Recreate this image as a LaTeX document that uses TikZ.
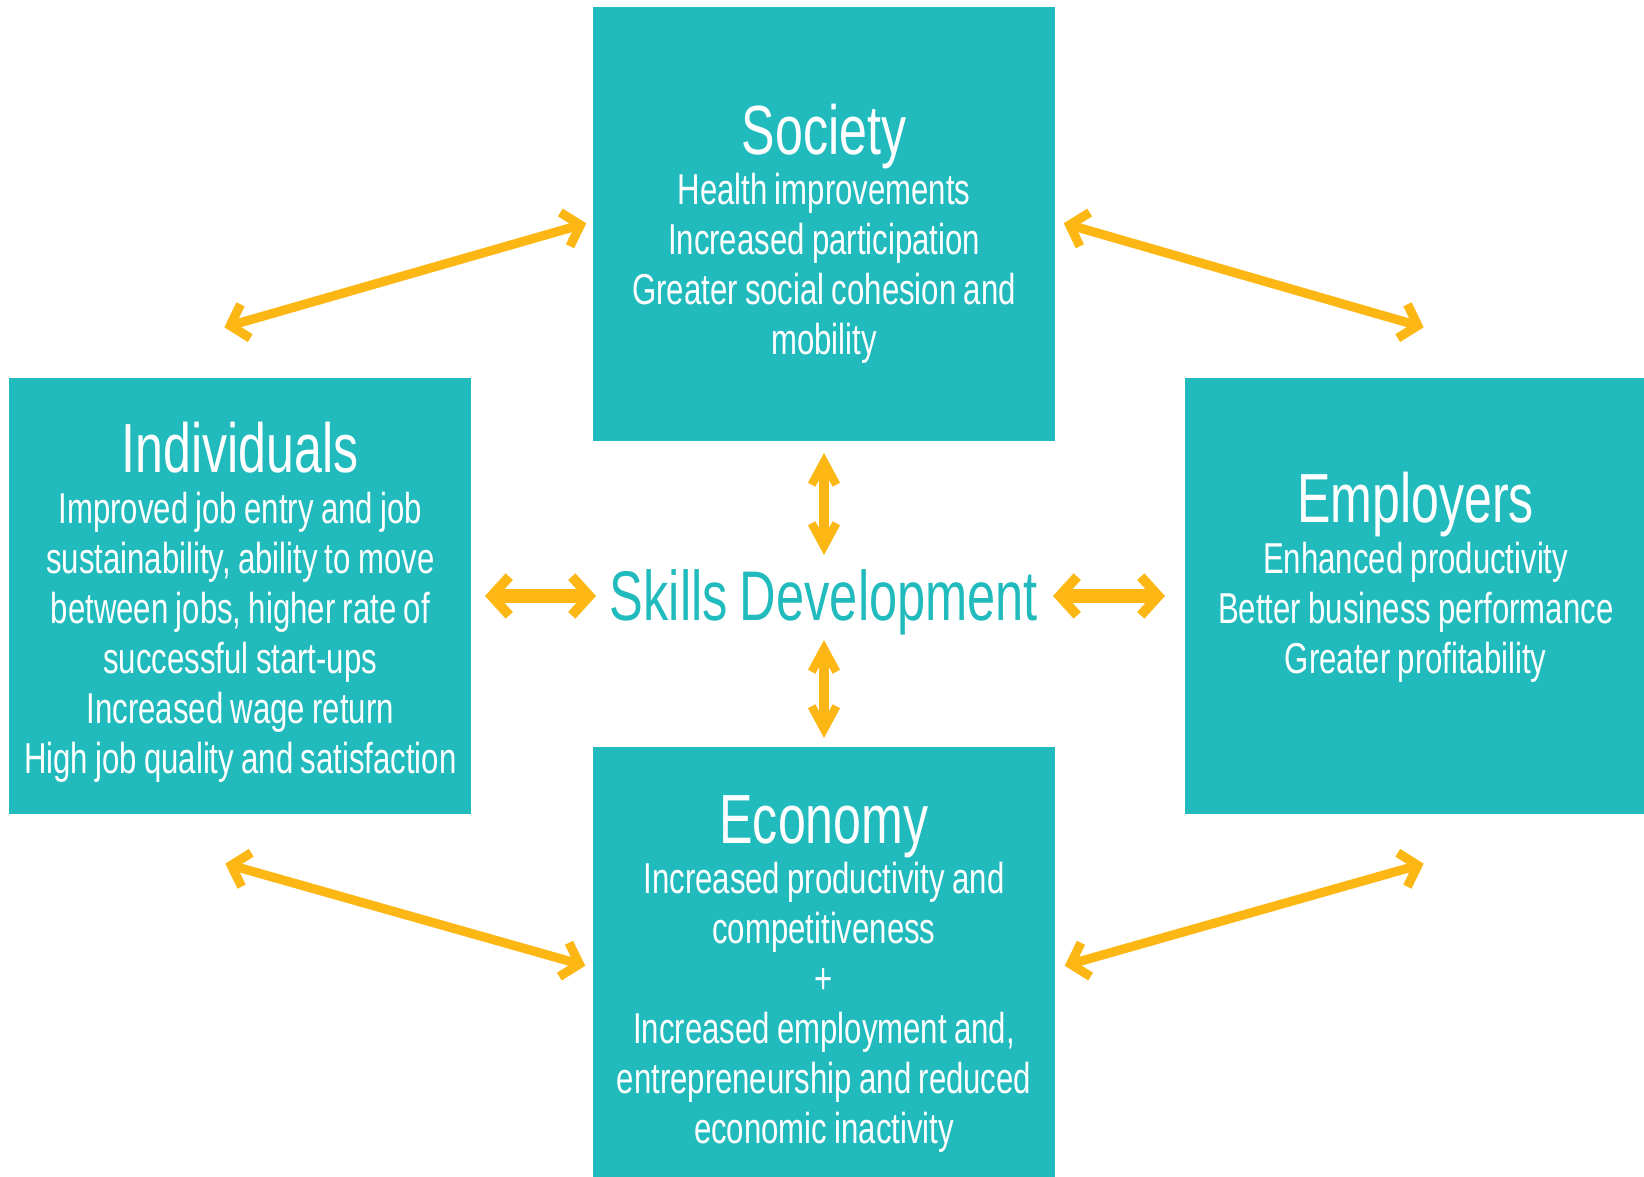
\documentclass[tikz,border=0pt]{standalone}
\usepackage{fontspec}
\setmainfont{Liberation Sans}[FakeStretch=0.72, WordSpace=0.85]
\usepackage{tikz}
\usetikzlibrary{positioning,arrows.meta}

\definecolor{skteal}{RGB}{34,187,189}
\definecolor{skorange}{RGB}{253,183,21}
\newcommand{\boxtitle}[1]{{\fontsize{19.8pt}{14.23pt}\selectfont #1}}

\tikzset{
  area/.style={fill=skteal, minimum width=4.62cm, minimum height=4.36cm, inner sep=0pt},
  areatext/.style={text=white, text width=4.6cm, align=flush center, inner sep=0pt, anchor=base,
    font=\fontsize{12.3pt}{14.23pt}\selectfont},
  hubtext/.style={text=skteal, inner sep=0pt, anchor=base, font=\fontsize{20pt}{24pt}\selectfont},
  link/.style={draw=skorange, line width=2.6pt,
    {Straight Barb[length=4.5pt,width=10pt]}-{Straight Barb[length=4.5pt,width=10pt]}},
  hlink/.style={draw=skorange, line width=4pt,
    {Straight Barb[length=5pt,width=11pt,line width=2.8pt]}-{Straight Barb[length=5pt,width=11pt,line width=2.8pt]}},
  vlink/.style={draw=skorange, line width=3.1pt,
    {Straight Barb[length=6.5pt,width=7pt,line width=2.4pt]}-{Straight Barb[length=6.5pt,width=7pt,line width=2.4pt]}},
}

\begin{document}
\begin{tikzpicture}
  \useasboundingbox (0,0) rectangle (16.44,11.77);
  % Define nodes
  \coordinate (hub) at (8.24,5.81);
  \node[area, above=1.54cm of hub, minimum height=4.34cm] (soc) {};
  \node[area, left=3.52cm of hub]  (ind) {};
  \node[area, right=3.60cm of hub] (emp) {};
  \node[area, below=1.50cm of hub] (eco) {};
  \node[hubtext] (skills) at ([yshift=-0.25cm]hub) {Skills Development};
  \node[areatext] (soctxt) at ([yshift=0.70cm]soc.center)
    {\boxtitle{Society}\\ Health improvements\\ Increased participation\\
     Greater social cohesion and\\ mobility};
  \node[areatext] (indtxt) at ([yshift=1.23cm]ind.center)
    {\boxtitle{Individuals}\\ Improved job entry and job\\ sustainability, ability to move\\
     between jobs, higher rate of\\ successful start-ups\\ Increased wage return\\
     High job quality and satisfaction};
  \node[areatext] (emptxt) at ([yshift=0.73cm]emp.center)
    {\boxtitle{Employers}\\ Enhanced productivity\\ Better business performance\\
     Greater profitability};
  \node[areatext] (ecotxt) at ([yshift=1.21cm]eco.center)
    {\boxtitle{Economy}\\ Increased productivity and\\ competitiveness\\ +\\
     Increased employment and,\\ entrepreneurship and reduced\\ economic inactivity};
  % Connect nodes
  \draw[vlink] ([yshift=-0.11cm]soc.south) -- ([yshift=0.41cm]hub);
  \draw[vlink] ([yshift=-0.44cm]hub) -- ([yshift=0.08cm]eco.north);
  \draw[hlink] ([xshift=0.13cm]ind.east) -- ([xshift=-2.28cm]hub);
  \draw[hlink] ([xshift=2.29cm]hub) -- ([xshift=-0.19cm]emp.west);
  \draw[link] ([shift={(-0.16,0.50)}]ind.north) -- ([shift={(-0.06,0.01)}]soc.west);
  \draw[link] ([shift={(0.08,0.01)}]soc.east) -- ([shift={(0.08,0.50)}]emp.north);
  \draw[link] ([shift={(-0.15,-0.49)}]ind.south) -- ([shift={(-0.07,-0.01)}]eco.west);
  \draw[link] ([shift={(0.09,-0.01)}]eco.east) -- ([shift={(0.08,-0.49)}]emp.south);
\end{tikzpicture}
\end{document}
